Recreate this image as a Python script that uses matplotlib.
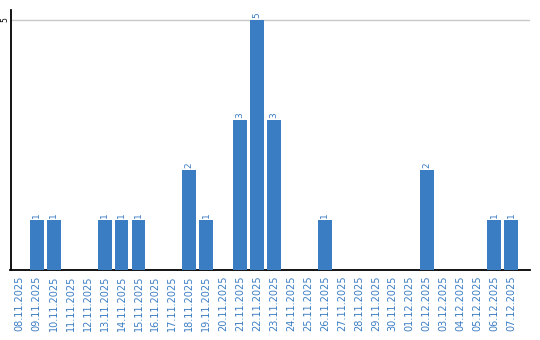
import matplotlib
matplotlib.use("Agg")
import matplotlib.pyplot as plt
import numpy as np

dates = ["08.11.2025", "09.11.2025", "10.11.2025", "11.11.2025", "12.11.2025",
         "13.11.2025", "14.11.2025", "15.11.2025", "16.11.2025", "17.11.2025",
         "18.11.2025", "19.11.2025", "20.11.2025", "21.11.2025", "22.11.2025",
         "23.11.2025", "24.11.2025", "25.11.2025", "26.11.2025", "27.11.2025",
         "28.11.2025", "29.11.2025", "30.11.2025", "01.12.2025", "02.12.2025",
         "03.12.2025", "04.12.2025", "05.12.2025", "06.12.2025", "07.12.2025"]
values = [0, 1, 1, 0, 0, 1, 1, 1, 0, 0, 2, 1, 0, 3, 5, 3, 0, 0, 1, 0,
          0, 0, 0, 0, 2, 0, 0, 0, 1, 1]
yticks = [5]

blue = "#3b7dc3"

fig = plt.figure(figsize=(5.4, 3.4), dpi=100)
ax = fig.add_axes([10.5/540, 70/340, 519.5/540, 260/340])
x = np.arange(len(dates))
ax.bar(x, values, width=0.82, color=blue, zorder=3)
for xi, v in zip(x, values):
    if v > 0:
        ax.text(xi, v + 0.04, str(v), rotation=90, ha="center", va="bottom",
                fontsize=6.5, color=blue, zorder=4)

ax.set_xlim(-0.55, len(dates) - 0.5 + 0.6)
ax.set_ylim(0, 5.2)
ax.set_yticks(yticks)
ax.set_yticklabels([str(t) for t in yticks], rotation=90, va="center", fontsize=5.5)
ax.yaxis.grid(True, color="#c8c8c8", linewidth=1, zorder=0)
ax.set_xticks(x)
ax.set_xticklabels(dates, rotation=90, fontsize=7, color=blue)
ax.tick_params(axis="x", length=0, pad=4)
ax.tick_params(axis="y", length=0, pad=1)
for s in ["top", "right"]:
    ax.spines[s].set_visible(False)
ax.spines["left"].set_linewidth(1.3)
ax.spines["bottom"].set_linewidth(1.3)

fig.savefig("out.png", dpi=100)
